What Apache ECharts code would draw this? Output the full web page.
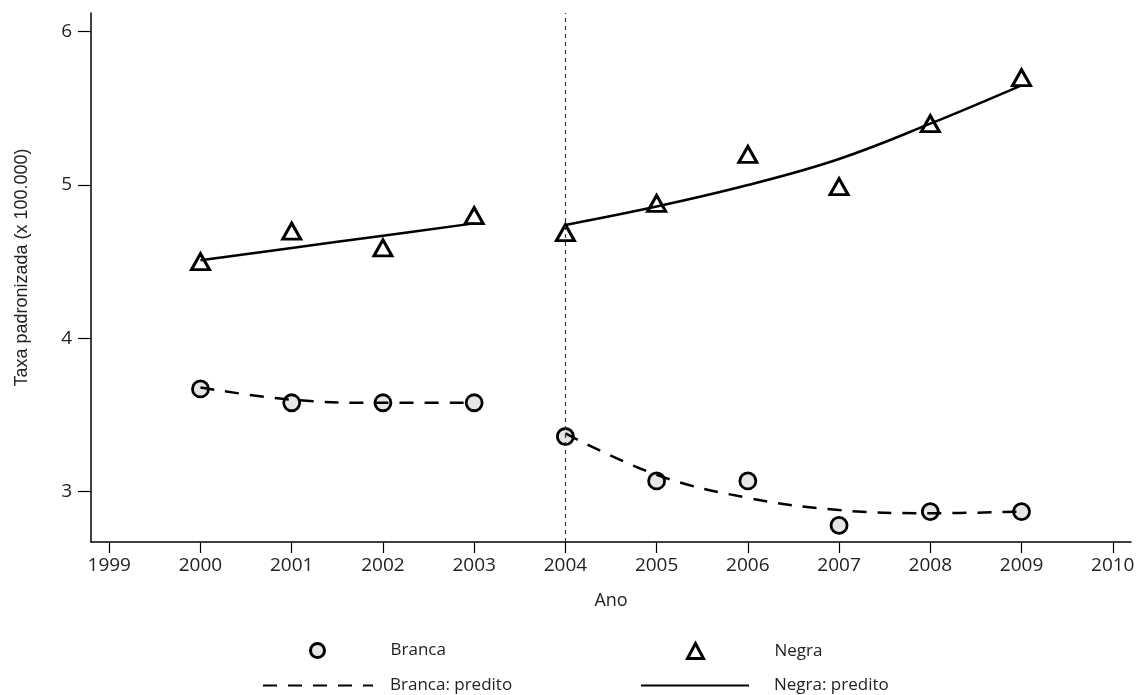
<!DOCTYPE html>
<html>
<head>
    <meta charset="utf-8"/>
    <title>Taxa padronizada</title>
    <script src="https://cdn.jsdelivr.net/npm/echarts@6/dist/echarts.min.js"></script>
    <style>
        html, body { margin: 0; padding: 0; background: #fff; }
    </style>
</head>
<body>
<div id="main" style="width: 1138px;height:695px;"></div>
<script type="text/javascript">
    // anos e valores
    var anos1 = [2000, 2001, 2002, 2003];
    var anos2 = [2004, 2005, 2006, 2007, 2008, 2009];
    var branca = [3.67, 3.58, 3.58, 3.58, 3.36, 3.07, 3.07, 2.78, 2.87, 2.87];
    var negra = [4.50, 4.70, 4.59, 4.80, 4.69, 4.88, 5.20, 4.99, 5.40, 5.70];
    // valores preditos (dois periodos)
    var brancaPred1 = [3.68, 3.60, 3.58, 3.58];
    var brancaPred2 = [3.38, 3.11, 2.96, 2.88, 2.86, 2.87];
    var negraPred1 = [4.51, 4.59, 4.67, 4.75];
    var negraPred2 = [4.74, 4.86, 5.00, 5.17, 5.40, 5.65];
    var xTicks = [1999, 2000, 2001, 2002, 2003, 2004, 2005, 2006, 2007, 2008, 2009, 2010];
    var yTicks = [3, 4, 5, 6];
    var anoCorte = 2004;

    var anos = anos1.concat(anos2);
    function pares(xs, ys) {
        return xs.map(function (x, i) { return [x, ys[i]]; });
    }

    var font = 'Open Sans';
    var txt = '#222';

    var myChart = echarts.init(document.getElementById('main'));

    var predStyle = function (tipo) {
        return { color: '#000', width: 2.5, type: tipo };
    };
    // esconde a bolinha que o ECharts poe no icone da legenda das linhas
    var semSimbolo = { color: 'rgba(0,0,0,0)', borderWidth: 0, opacity: 0 };

    var option = {
        animation: false,
        grid: { left: 91, right: 7, top: 13, bottom: 153 },
        xAxis: {
            type: 'value',
            min: 1998.8,
            max: 2010.2,
            name: 'Ano',
            nameLocation: 'middle',
            nameGap: 50,
            nameTextStyle: { fontFamily: font, fontSize: 18, color: txt },
            splitLine: { show: false },
            axisLine: { lineStyle: { color: '#000', width: 1.5 } },
            axisTick: { customValues: xTicks, length: 11, lineStyle: { color: '#000', width: 1.2 } },
            axisLabel: {
                customValues: xTicks,
                margin: 14,
                formatter: function (v) { return String(v); },
                fontFamily: font, fontSize: 19, color: txt
            }
        },
        yAxis: {
            type: 'value',
            min: 2.672,
            max: 6.122,
            name: 'Taxa padronizada (x 100.000)',
            nameLocation: 'middle',
            nameGap: 60,
            nameTextStyle: { fontFamily: 'Liberation Sans', fontSize: 18, color: txt, padding: [0, 0, 0, 20] },
            splitLine: { show: false },
            axisLine: { show: true, lineStyle: { color: '#000', width: 1.5 } },
            axisTick: { show: true, customValues: yTicks, length: 13, lineStyle: { color: '#000', width: 1.2 } },
            axisLabel: {
                customValues: yTicks,
                margin: 19,
                fontFamily: font, fontSize: 19, color: txt
            }
        },
        legend: [
            {
                data: ['Branca'], left: 309, top: 642, padding: 0,
                itemWidth: 14, itemHeight: 14, selectedMode: false,
                itemStyle: { borderWidth: 3, borderColor: '#000' },
                textStyle: { fontFamily: font, fontSize: 17, color: txt, padding: [0, 0, 0, 61] }
            },
            {
                data: ['Negra'], left: 686, top: 642, padding: 0,
                itemWidth: 16, itemHeight: 15, selectedMode: false,
                itemStyle: { borderWidth: 3, borderColor: '#000' },
                textStyle: { fontFamily: font, fontSize: 17, color: txt, padding: [0, 0, 0, 66] }
            },
            {
                data: ['Branca: predito'], left: 262, top: 677, padding: 0,
                itemWidth: 110, itemHeight: 16, selectedMode: false,
                itemStyle: semSimbolo,
                textStyle: { fontFamily: font, fontSize: 17, color: txt, padding: [0, 0, 0, 12] }
            },
            {
                data: ['Negra: predito'], left: 640, top: 677, padding: 0,
                itemWidth: 108, itemHeight: 16, selectedMode: false,
                itemStyle: semSimbolo,
                textStyle: { fontFamily: font, fontSize: 17, color: txt, padding: [0, 0, 0, 20] }
            }
        ],
        series: [
            {
                name: 'Branca',
                type: 'scatter',
                symbol: 'circle',
                symbolSize: 16,
                itemStyle: { color: '#e6e6e6', borderColor: '#000', borderWidth: 2.8, opacity: 1 },
                data: pares(anos, branca)
            },
            {
                name: 'Negra',
                type: 'scatter',
                symbol: 'triangle',
                symbolSize: [18, 16],
                itemStyle: { color: '#fff', borderColor: '#000', borderWidth: 3, opacity: 1 },
                data: pares(anos, negra)
            },
            {
                name: 'Branca: predito',
                type: 'line',
                smooth: 0.4,
                symbol: 'none',
                lineStyle: predStyle([14, 11]),
                itemStyle: { color: '#000' },
                data: pares(anos1, brancaPred1)
            },
            {
                name: 'Branca: predito',
                type: 'line',
                smooth: 0.4,
                symbol: 'none',
                lineStyle: predStyle([14, 11]),
                itemStyle: { color: '#000' },
                data: pares(anos2, brancaPred2)
            },
            {
                name: 'Negra: predito',
                type: 'line',
                smooth: 0.4,
                symbol: 'none',
                lineStyle: predStyle('solid'),
                itemStyle: { color: '#000' },
                data: pares(anos1, negraPred1)
            },
            {
                name: 'Negra: predito',
                type: 'line',
                smooth: 0.4,
                symbol: 'none',
                lineStyle: predStyle('solid'),
                itemStyle: { color: '#000' },
                data: pares(anos2, negraPred2),
                markLine: {
                    silent: true,
                    symbol: 'none',
                    label: { show: false },
                    lineStyle: { color: '#333', width: 1.2, type: [4, 4] },
                    data: [{ xAxis: anoCorte }]
                }
            }
        ]
    };

    myChart.setOption(option);
</script>
</body>
</html>
